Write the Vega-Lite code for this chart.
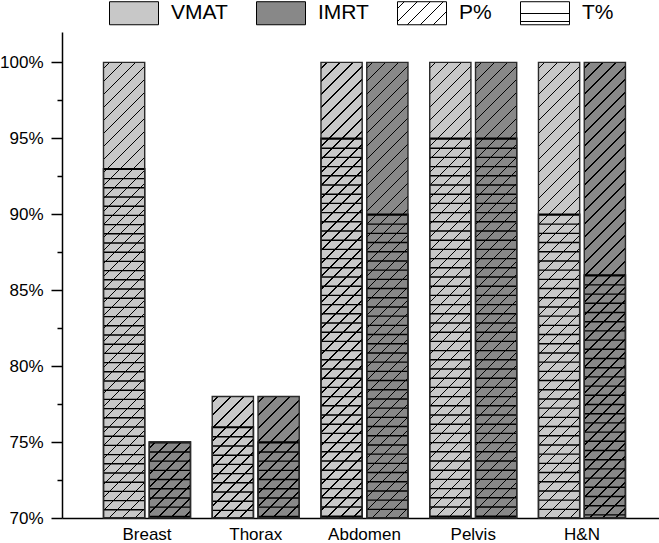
{
"$schema": "https://vega.github.io/schema/vega-lite/v6.json",
"width": 597,
"height": 486,
"autosize": "none",
"padding": {"left": 62, "top": 32, "right": 0, "bottom": 25},
"background": "white",
"config": {
  "view": {"stroke": null},
  "font": "Liberation Sans",
  "axis": {"labelFont": "Liberation Sans", "labelFontSize": 17, "labelColor": "#000", "domainColor": "#000", "domainWidth": 1.5, "tickColor": "#000", "tickWidth": 1.5, "grid": false, "title": null},
  "legend": {"orient": "none", "legendX": 47, "legendY": -44, "direction": "horizontal", "columns": 4, "columnPadding": 26, "padding": 0, "title": null, "symbolType": "M-1,-0.47H1V0.47H-1Z", "symbolSize": 2401, "symbolStrokeColor": "#000", "symbolStrokeWidth": 1, "symbolOpacity": 1, "labelFont": "Liberation Sans", "labelFontSize": 21, "labelColor": "#000", "labelOffset": 12, "labelLimit": 300}
},
"data": {"values": [
  {"group": "Breast", "method": "VMAT", "P": 100, "T": 93},
  {"group": "Breast", "method": "IMRT", "P": 75, "T": 75},
  {"group": "Thorax", "method": "VMAT", "P": 78, "T": 76},
  {"group": "Thorax", "method": "IMRT", "P": 78, "T": 75},
  {"group": "Abdomen", "method": "VMAT", "P": 100, "T": 95},
  {"group": "Abdomen", "method": "IMRT", "P": 100, "T": 90},
  {"group": "Pelvis", "method": "VMAT", "P": 100, "T": 95},
  {"group": "Pelvis", "method": "IMRT", "P": 100, "T": 95},
  {"group": "H&N", "method": "VMAT", "P": 100, "T": 90},
  {"group": "H&N", "method": "IMRT", "P": 100, "T": 86}
]},
"encoding": {
  "x": {"field": "group", "type": "nominal", "sort": ["Breast", "Thorax", "Abdomen", "Pelvis", "H&N"], "scale": {"paddingInner": 0.2, "paddingOuter": 0.345, "align": 0.553}, "axis": {"labelAngle": 0, "ticks": false, "tickSize": 0, "labelPadding": 8}},
  "xOffset": {"field": "method", "type": "nominal", "sort": ["VMAT", "IMRT"], "scale": {"paddingInner": 0.1, "paddingOuter": 0}}
},
"layer": [
  {
    "mark": {"type": "bar", "strokeWidth": 0},
    "encoding": {
      "y": {"field": "P", "type": "quantitative", "scale": {"domain": [70, 102], "nice": false, "zero": false},
        "axis": {"values": [70, 72.5, 75, 77.5, 80, 82.5, 85, 87.5, 90, 92.5, 95, 97.5, 100], "labelExpr": "datum.value % 5 === 0 ? datum.value + '%' : ''", "tickSize": {"condition": {"test": "datum.value % 5 === 0", "value": 11}, "value": 5}, "labelPadding": 8}},
      "y2": {"datum": 70},
      "fill": {"field": "method", "type": "nominal",
        "scale": {"domain": ["VMAT", "IMRT", "P%", "T%"], "range": ["#c8c8c8", "#888888",
          {"expr": "{gradient:'linear',x1:0,y1:0,x2:1.3044,y2:0.6123,stops:[{offset:0,color:'#fff'},{offset:0.08,color:'#fff'},{offset:0.08,color:'#000'},{offset:0.097,color:'#000'},{offset:0.097,color:'#fff'},{offset:0.247,color:'#fff'},{offset:0.247,color:'#000'},{offset:0.264,color:'#000'},{offset:0.264,color:'#fff'},{offset:0.413,color:'#fff'},{offset:0.413,color:'#000'},{offset:0.43,color:'#000'},{offset:0.43,color:'#fff'},{offset:0.58,color:'#fff'},{offset:0.58,color:'#000'},{offset:0.597,color:'#000'},{offset:0.597,color:'#fff'},{offset:0.747,color:'#fff'},{offset:0.747,color:'#000'},{offset:0.764,color:'#000'},{offset:0.764,color:'#fff'},{offset:1,color:'#fff'}]}"},
          {"expr": "{gradient:'linear',x1:0,y1:0,x2:0,y2:1,stops:[{offset:0,color:'#fff'},{offset:0.48,color:'#fff'},{offset:0.48,color:'#000'},{offset:0.54,color:'#000'},{offset:0.54,color:'#fff'},{offset:0.83,color:'#fff'},{offset:0.83,color:'#000'},{offset:0.89,color:'#000'},{offset:0.89,color:'#fff'},{offset:1,color:'#fff'}]}"}
        ]},
        "legend": {}}
    }
  },
  {
    "mark": {"type": "bar", "strokeWidth": 0},
    "encoding": {
      "y": {"field": "P", "type": "quantitative"},
      "y2": {"datum": 70},
      "fill": {
        "condition": [
          {"test": "datum.P == 100", "value": {"gradient": "linear", "x1": 0, "y1": 0, "x2": 0.10238, "y2": 1.13209, "stops": [
            {"offset": 0.010, "color": "transparent"}, {"offset": 0.010, "color": "#000"}, {"offset": 0.013, "color": "#000"}, {"offset": 0.013, "color": "transparent"},
            {"offset": 0.035, "color": "transparent"}, {"offset": 0.035, "color": "#000"}, {"offset": 0.038, "color": "#000"}, {"offset": 0.038, "color": "transparent"},
            {"offset": 0.060, "color": "transparent"}, {"offset": 0.060, "color": "#000"}, {"offset": 0.063, "color": "#000"}, {"offset": 0.063, "color": "transparent"},
            {"offset": 0.085, "color": "transparent"}, {"offset": 0.085, "color": "#000"}, {"offset": 0.088, "color": "#000"}, {"offset": 0.088, "color": "transparent"},
            {"offset": 0.110, "color": "transparent"}, {"offset": 0.110, "color": "#000"}, {"offset": 0.113, "color": "#000"}, {"offset": 0.113, "color": "transparent"},
            {"offset": 0.135, "color": "transparent"}, {"offset": 0.135, "color": "#000"}, {"offset": 0.138, "color": "#000"}, {"offset": 0.138, "color": "transparent"},
            {"offset": 0.160, "color": "transparent"}, {"offset": 0.160, "color": "#000"}, {"offset": 0.163, "color": "#000"}, {"offset": 0.163, "color": "transparent"},
            {"offset": 0.185, "color": "transparent"}, {"offset": 0.185, "color": "#000"}, {"offset": 0.188, "color": "#000"}, {"offset": 0.188, "color": "transparent"},
            {"offset": 0.210, "color": "transparent"}, {"offset": 0.210, "color": "#000"}, {"offset": 0.213, "color": "#000"}, {"offset": 0.213, "color": "transparent"},
            {"offset": 0.235, "color": "transparent"}, {"offset": 0.235, "color": "#000"}, {"offset": 0.238, "color": "#000"}, {"offset": 0.238, "color": "transparent"},
            {"offset": 0.260, "color": "transparent"}, {"offset": 0.260, "color": "#000"}, {"offset": 0.263, "color": "#000"}, {"offset": 0.263, "color": "transparent"},
            {"offset": 0.285, "color": "transparent"}, {"offset": 0.285, "color": "#000"}, {"offset": 0.288, "color": "#000"}, {"offset": 0.288, "color": "transparent"},
            {"offset": 0.310, "color": "transparent"}, {"offset": 0.310, "color": "#000"}, {"offset": 0.313, "color": "#000"}, {"offset": 0.313, "color": "transparent"},
            {"offset": 0.335, "color": "transparent"}, {"offset": 0.335, "color": "#000"}, {"offset": 0.338, "color": "#000"}, {"offset": 0.338, "color": "transparent"},
            {"offset": 0.360, "color": "transparent"}, {"offset": 0.360, "color": "#000"}, {"offset": 0.363, "color": "#000"}, {"offset": 0.363, "color": "transparent"},
            {"offset": 0.385, "color": "transparent"}, {"offset": 0.385, "color": "#000"}, {"offset": 0.388, "color": "#000"}, {"offset": 0.388, "color": "transparent"},
            {"offset": 0.410, "color": "transparent"}, {"offset": 0.410, "color": "#000"}, {"offset": 0.413, "color": "#000"}, {"offset": 0.413, "color": "transparent"},
            {"offset": 0.435, "color": "transparent"}, {"offset": 0.435, "color": "#000"}, {"offset": 0.438, "color": "#000"}, {"offset": 0.438, "color": "transparent"},
            {"offset": 0.460, "color": "transparent"}, {"offset": 0.460, "color": "#000"}, {"offset": 0.463, "color": "#000"}, {"offset": 0.463, "color": "transparent"},
            {"offset": 0.485, "color": "transparent"}, {"offset": 0.485, "color": "#000"}, {"offset": 0.488, "color": "#000"}, {"offset": 0.488, "color": "transparent"},
            {"offset": 0.510, "color": "transparent"}, {"offset": 0.510, "color": "#000"}, {"offset": 0.513, "color": "#000"}, {"offset": 0.513, "color": "transparent"},
            {"offset": 0.535, "color": "transparent"}, {"offset": 0.535, "color": "#000"}, {"offset": 0.538, "color": "#000"}, {"offset": 0.538, "color": "transparent"},
            {"offset": 0.560, "color": "transparent"}, {"offset": 0.560, "color": "#000"}, {"offset": 0.563, "color": "#000"}, {"offset": 0.563, "color": "transparent"},
            {"offset": 0.585, "color": "transparent"}, {"offset": 0.585, "color": "#000"}, {"offset": 0.588, "color": "#000"}, {"offset": 0.588, "color": "transparent"},
            {"offset": 0.610, "color": "transparent"}, {"offset": 0.610, "color": "#000"}, {"offset": 0.613, "color": "#000"}, {"offset": 0.613, "color": "transparent"},
            {"offset": 0.635, "color": "transparent"}, {"offset": 0.635, "color": "#000"}, {"offset": 0.638, "color": "#000"}, {"offset": 0.638, "color": "transparent"},
            {"offset": 0.660, "color": "transparent"}, {"offset": 0.660, "color": "#000"}, {"offset": 0.663, "color": "#000"}, {"offset": 0.663, "color": "transparent"},
            {"offset": 0.685, "color": "transparent"}, {"offset": 0.685, "color": "#000"}, {"offset": 0.688, "color": "#000"}, {"offset": 0.688, "color": "transparent"},
            {"offset": 0.710, "color": "transparent"}, {"offset": 0.710, "color": "#000"}, {"offset": 0.713, "color": "#000"}, {"offset": 0.713, "color": "transparent"},
            {"offset": 0.735, "color": "transparent"}, {"offset": 0.735, "color": "#000"}, {"offset": 0.738, "color": "#000"}, {"offset": 0.738, "color": "transparent"},
            {"offset": 0.760, "color": "transparent"}, {"offset": 0.760, "color": "#000"}, {"offset": 0.763, "color": "#000"}, {"offset": 0.763, "color": "transparent"},
            {"offset": 0.785, "color": "transparent"}, {"offset": 0.785, "color": "#000"}, {"offset": 0.788, "color": "#000"}, {"offset": 0.788, "color": "transparent"},
            {"offset": 0.810, "color": "transparent"}, {"offset": 0.810, "color": "#000"}, {"offset": 0.813, "color": "#000"}, {"offset": 0.813, "color": "transparent"},
            {"offset": 0.835, "color": "transparent"}, {"offset": 0.835, "color": "#000"}, {"offset": 0.838, "color": "#000"}, {"offset": 0.838, "color": "transparent"},
            {"offset": 0.860, "color": "transparent"}, {"offset": 0.860, "color": "#000"}, {"offset": 0.863, "color": "#000"}, {"offset": 0.863, "color": "transparent"},
            {"offset": 0.885, "color": "transparent"}, {"offset": 0.885, "color": "#000"}, {"offset": 0.888, "color": "#000"}, {"offset": 0.888, "color": "transparent"},
            {"offset": 0.910, "color": "transparent"}, {"offset": 0.910, "color": "#000"}, {"offset": 0.913, "color": "#000"}, {"offset": 0.913, "color": "transparent"},
            {"offset": 0.935, "color": "transparent"}, {"offset": 0.935, "color": "#000"}, {"offset": 0.938, "color": "#000"}, {"offset": 0.938, "color": "transparent"}
          ]}},
          {"test": "datum.P == 78", "value": {"gradient": "linear", "x1": 0, "y1": 0, "x2": 0.42302, "y2": 1.24751, "stops": [
            {"offset": 0.030, "color": "transparent"}, {"offset": 0.030, "color": "#000"}, {"offset": 0.039, "color": "#000"}, {"offset": 0.039, "color": "transparent"},
            {"offset": 0.107, "color": "transparent"}, {"offset": 0.107, "color": "#000"}, {"offset": 0.116, "color": "#000"}, {"offset": 0.116, "color": "transparent"},
            {"offset": 0.184, "color": "transparent"}, {"offset": 0.184, "color": "#000"}, {"offset": 0.193, "color": "#000"}, {"offset": 0.193, "color": "transparent"},
            {"offset": 0.261, "color": "transparent"}, {"offset": 0.261, "color": "#000"}, {"offset": 0.270, "color": "#000"}, {"offset": 0.270, "color": "transparent"},
            {"offset": 0.338, "color": "transparent"}, {"offset": 0.338, "color": "#000"}, {"offset": 0.347, "color": "#000"}, {"offset": 0.347, "color": "transparent"},
            {"offset": 0.415, "color": "transparent"}, {"offset": 0.415, "color": "#000"}, {"offset": 0.424, "color": "#000"}, {"offset": 0.424, "color": "transparent"},
            {"offset": 0.492, "color": "transparent"}, {"offset": 0.492, "color": "#000"}, {"offset": 0.501, "color": "#000"}, {"offset": 0.501, "color": "transparent"},
            {"offset": 0.569, "color": "transparent"}, {"offset": 0.569, "color": "#000"}, {"offset": 0.578, "color": "#000"}, {"offset": 0.578, "color": "transparent"},
            {"offset": 0.646, "color": "transparent"}, {"offset": 0.646, "color": "#000"}, {"offset": 0.655, "color": "#000"}, {"offset": 0.655, "color": "transparent"},
            {"offset": 0.722, "color": "transparent"}, {"offset": 0.722, "color": "#000"}, {"offset": 0.731, "color": "#000"}, {"offset": 0.731, "color": "transparent"},
            {"offset": 0.799, "color": "transparent"}, {"offset": 0.799, "color": "#000"}, {"offset": 0.808, "color": "#000"}, {"offset": 0.808, "color": "transparent"},
            {"offset": 0.876, "color": "transparent"}, {"offset": 0.876, "color": "#000"}, {"offset": 0.885, "color": "#000"}, {"offset": 0.885, "color": "transparent"},
            {"offset": 0.953, "color": "transparent"}, {"offset": 0.953, "color": "#000"}, {"offset": 0.962, "color": "#000"}, {"offset": 0.962, "color": "transparent"}
          ]}}
        ],
        "value": {"gradient": "linear", "x1": 0, "y1": 0, "x2": 0.71814, "y2": 1.32297, "stops": [
          {"offset": 0.040, "color": "transparent"}, {"offset": 0.040, "color": "#000"}, {"offset": 0.052, "color": "#000"}, {"offset": 0.052, "color": "transparent"},
          {"offset": 0.140, "color": "transparent"}, {"offset": 0.140, "color": "#000"}, {"offset": 0.152, "color": "#000"}, {"offset": 0.152, "color": "transparent"},
          {"offset": 0.240, "color": "transparent"}, {"offset": 0.240, "color": "#000"}, {"offset": 0.252, "color": "#000"}, {"offset": 0.252, "color": "transparent"},
          {"offset": 0.340, "color": "transparent"}, {"offset": 0.340, "color": "#000"}, {"offset": 0.352, "color": "#000"}, {"offset": 0.352, "color": "transparent"},
          {"offset": 0.440, "color": "transparent"}, {"offset": 0.440, "color": "#000"}, {"offset": 0.452, "color": "#000"}, {"offset": 0.452, "color": "transparent"},
          {"offset": 0.540, "color": "transparent"}, {"offset": 0.540, "color": "#000"}, {"offset": 0.552, "color": "#000"}, {"offset": 0.552, "color": "transparent"},
          {"offset": 0.640, "color": "transparent"}, {"offset": 0.640, "color": "#000"}, {"offset": 0.652, "color": "#000"}, {"offset": 0.652, "color": "transparent"},
          {"offset": 0.740, "color": "transparent"}, {"offset": 0.740, "color": "#000"}, {"offset": 0.752, "color": "#000"}, {"offset": 0.752, "color": "transparent"},
          {"offset": 0.840, "color": "transparent"}, {"offset": 0.840, "color": "#000"}, {"offset": 0.852, "color": "#000"}, {"offset": 0.852, "color": "transparent"}
        ]}
      }
    }
  },
  {
    "mark": {"type": "rule", "strokeWidth": 41.2, "strokeDash": [1.4, 7.8], "color": "#000", "strokeCap": "butt"},
    "encoding": {
      "y": {"field": "T", "type": "quantitative"},
      "y2": {"datum": 70}
    }
  },
  {
    "mark": {"type": "bar", "fill": null, "fillOpacity": 0, "stroke": "#000", "strokeWidth": 1.4},
    "encoding": {
      "y": {"field": "T", "type": "quantitative"},
      "y2": {"datum": 70}
    }
  },
  {
    "mark": {"type": "bar", "fill": null, "fillOpacity": 0, "stroke": "#2a2a2a", "strokeWidth": 1.4},
    "encoding": {
      "y": {"field": "P", "type": "quantitative"},
      "y2": {"datum": 70}
    }
  }
]
}
